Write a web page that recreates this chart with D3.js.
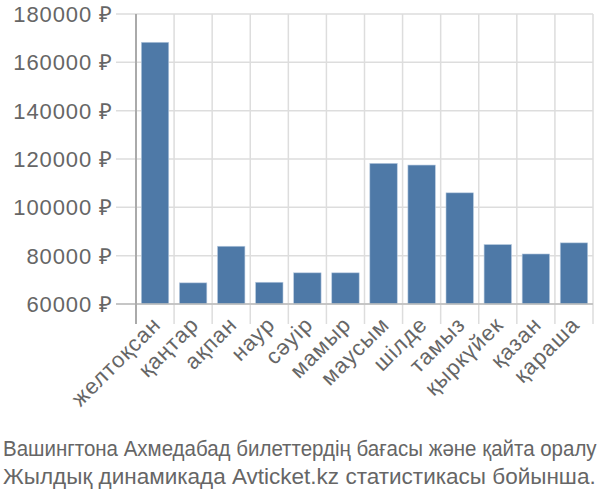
<!DOCTYPE html>
<html>
<head>
<meta charset="utf-8">
<script src="https://cdn.jsdelivr.net/npm/d3@7"></script>
<style>
  body { margin: 0; background: #fff; }
  text { font-family: "Liberation Sans", Arial, sans-serif; fill: #666; }
</style>
</head>
<body>
<svg id="chart" width="600" height="500"></svg>
<script>
// months (kazakh) and prices in rubles
let months = ["желтоқсан", "қаңтар", "ақпан", "наур", "сәуір", "мамыр",
  "маусым", "шілде", "тамыз", "қыркүйек", "қазан", "қараша"]
let prices = [168300, 68750, 83900, 69000, 72900, 72900,
  118200, 117500, 106000, 84600, 80700, 85300]
let yTicks = [60000, 80000, 100000, 120000, 140000, 160000, 180000]
let titleLines = ["Вашингтона Ахмедабад билеттердің бағасы және қайта оралу",
  "Жылдық динамикада Avticket.kz статистикасы бойынша."]
let titleWidths = [594, 593]

let svg = d3.select("#chart")
let plotLeft = 136, plotRight = 593, plotTop = 14, plotBottom = 304

let x = d3.scaleBand().domain(months).range([plotLeft, plotRight]).paddingInner(0.28).paddingOuter(0.14)
let y = d3.scaleLinear().domain([60000, 180000]).range([plotBottom, plotTop])

// grid lines
let step = x.step()
let gap = (step - x.bandwidth()) / 2
let g = svg.append("g")
g.selectAll(".hgrid").data(yTicks).enter().append("line")
  .attr("x1", plotLeft - 20).attr("x2", plotRight)
  .attr("y1", d => y(d)).attr("y2", d => y(d))
  .attr("stroke", "#ddd").attr("stroke-width", 1.5)
g.selectAll(".vgrid").data(months).enter().append("line")
  .attr("x1", d => x(d) - gap + step)
  .attr("x2", d => x(d) - gap + step)
  .attr("y1", plotTop).attr("y2", plotBottom + 20)
  .attr("stroke", "#ddd").attr("stroke-width", 1.5)

// y labels
svg.selectAll(".ylab").data(yTicks).enter().append("text")
  .attr("x", plotLeft - 23).attr("y", d => y(d) + 8)
  .attr("text-anchor", "end").style("font-size", "22px")
  .style("letter-spacing", "0.9px")
  .text(d => d + " ₽")

// bars
svg.selectAll(".bar").data(prices).enter().append("rect")
  .attr("x", (d, i) => x(months[i]))
  .attr("width", x.bandwidth())
  .attr("y", d => y(d))
  .attr("height", d => plotBottom - y(d))
  .attr("fill", "#4e79a7")
  .attr("stroke", "#b8cbe0").attr("stroke-width", 0.6)

// axes lines
svg.append("line").attr("x1", plotLeft - 20).attr("x2", plotRight)
  .attr("y1", plotBottom).attr("y2", plotBottom).attr("stroke", "#bbb").attr("stroke-width", 1.5)
svg.append("line").attr("x1", plotLeft).attr("x2", plotLeft)
  .attr("y1", plotTop).attr("y2", plotBottom + 20).attr("stroke", "#aaa").attr("stroke-width", 2)

// x labels
svg.selectAll(".xlab").data(months).enter().append("text")
  .attr("transform", d => "translate(" + (x(d) + x.bandwidth() / 2 + 7) + "," + (plotBottom + 22) + ") rotate(-45)")
  .attr("text-anchor", "end").style("font-size", "22px")
  .style("letter-spacing", "1px")
  .text(d => d)

// title, scaled horizontally to the width of the reference lines
svg.selectAll(".title").data(titleLines).enter().append("text")
  .attr("x", 0).attr("y", 0)
  .style("font-size", "22px")
  .text(d => d)
  .attr("transform", function(d, i) {
    let k = titleWidths[i] / this.getComputedTextLength()
    return "translate(3," + (456 + i * 28) + ") scale(" + k + ",1)"
  })
</script>
</body>
</html>
